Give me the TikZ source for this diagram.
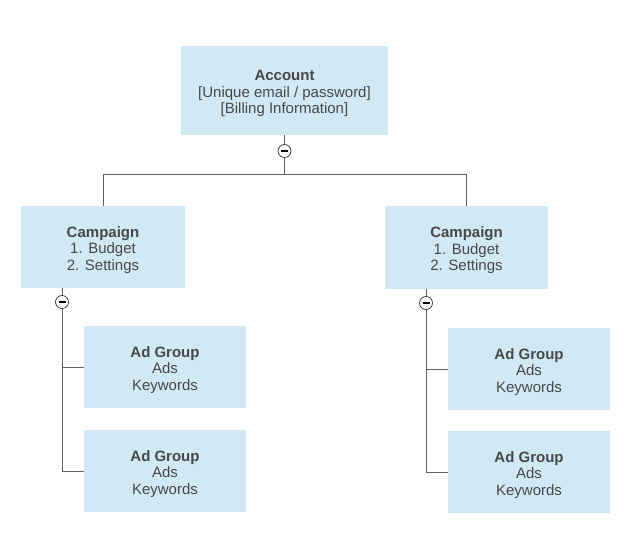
\documentclass[tikz,border=0pt]{standalone}
\usepackage{fontspec}
\setmainfont{Liberation Sans}
\usepackage{tikz}

\definecolor{boxblue}{HTML}{D1E8F5}
\definecolor{textgray}{HTML}{484848}
\definecolor{linegray}{HTML}{5F5F5F}
\newcommand{\headline}[1]{\rule{0pt}{17pt}\textbf{#1}}

\begin{document}
\begin{tikzpicture}[x=1pt, y=-1pt,
  entity/.style={shape=rectangle, fill=boxblue, inner sep=0pt, align=center,
    text=textgray, font=\fontsize{15}{16.5}\selectfont},
  toggle/.style={shape=circle, draw=black!80, fill=white, inner sep=0pt,
    minimum size=13pt, line width=0.7pt},
  link/.style={draw=linegray, line width=0.9pt}]
  \useasboundingbox (0, 0) rectangle (642, 535);
  \node (acc) at (284.5, 90.5) [entity, minimum width=207pt, minimum height=89pt]
    {\headline{Account}\\{}[Unique email / password]\\{}[Billing Information]};
  \node (cam1) at (103, 247) [entity, minimum width=164pt, minimum height=82pt]
    {\headline{Campaign}\\1. Budget\\2. Settings};
  \node (cam2) at (466.5, 247.5) [entity, minimum width=163pt, minimum height=83pt]
    {\headline{Campaign}\\1. Budget\\2. Settings};
  \node (adg1) at (165, 367) [entity, minimum width=162pt, minimum height=82pt]
    {\headline{Ad Group}\\Ads\\Keywords};
  \node (adg2) at (165, 471) [entity, minimum width=162pt, minimum height=82pt]
    {\headline{Ad Group}\\Ads\\Keywords};
  \node (adg3) at (529, 369) [entity, minimum width=162pt, minimum height=82pt]
    {\headline{Ad Group}\\Ads\\Keywords};
  \node (adg4) at (529, 472) [entity, minimum width=162pt, minimum height=82pt]
    {\headline{Ad Group}\\Ads\\Keywords};
  \coordinate (split) at (284.5, 174);
  \node (tog1) at (284.5, 151) [toggle] {};
  \node (tog2) at (62, 302) [toggle] {};
  \node (tog3) at (426, 303) [toggle] {};
  % tree lines
  \draw[link] (acc) -- (tog1);
  \draw[link] (tog1) -- (split);
  \draw[link] (split) -| (cam1);
  \draw[link] (split) -| (cam2);
  \draw[link] (cam1.south -| tog2) -- (tog2);
  \draw[link] (tog2) |- (adg1);
  \draw[link] (tog2) |- (adg2);
  \draw[link] (cam2.south -| tog3) -- (tog3);
  \draw[link] (tog3) |- (adg3);
  \draw[link] (tog3) |- (adg4);
  % minus signs
  \draw[line width=1.2pt] ([xshift=-3.5pt]tog1.center) -- ([xshift=3.5pt]tog1.center);
  \draw[line width=1.2pt] ([xshift=-3.5pt]tog2.center) -- ([xshift=3.5pt]tog2.center);
  \draw[line width=1.2pt] ([xshift=-3.5pt]tog3.center) -- ([xshift=3.5pt]tog3.center);
\end{tikzpicture}
\end{document}
